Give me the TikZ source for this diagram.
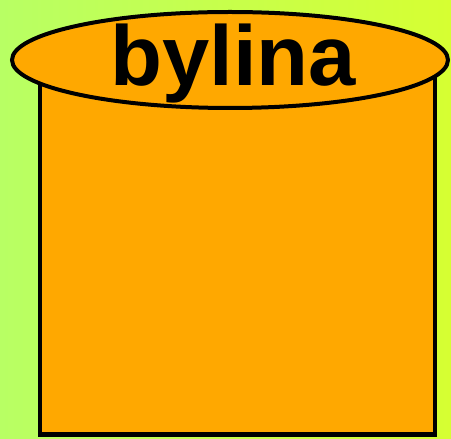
\documentclass[tikz,border=0pt]{standalone}
\usepackage{tikz}
\usetikzlibrary{shapes.geometric, positioning}
\usepackage{fontspec}
\setmainfont{Liberation Sans}
\definecolor{bgleft}{RGB}{184,255,100}
\definecolor{bgright}{RGB}{214,255,50}
\definecolor{drum}{RGB}{255,168,0}

\begin{document}
\begin{tikzpicture}[
      x=1pt, y=1pt,
      body/.style={rectangle, draw=black, line width=4.5pt, fill=drum,
                   minimum width=395pt, minimum height=362pt, inner sep=0pt},
      lid/.style={ellipse, draw=black, line width=4pt, fill=drum,
                  minimum width=436pt, minimum height=96pt, inner sep=0pt},
      title/.style={inner sep=0pt, font=\fontsize{85pt}{85pt}\selectfont\bfseries}
    ]
    % background
    \shade[left color=bgleft, right color=bgright] (0,0) rectangle (451,439);
    \useasboundingbox (0,0) rectangle (451,439);
    \node[body, anchor=south west] (drumbody) at (37.5,2) {};
    \node[lid] (drumlid) at (230,379) {};
    \node[title] (drumname) at ([xshift=3pt, yshift=-4pt]drumlid.center) {bylina};
  \end{tikzpicture}
\end{document}
